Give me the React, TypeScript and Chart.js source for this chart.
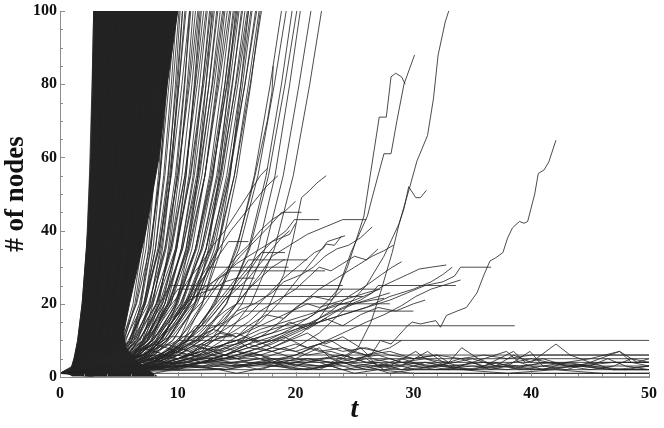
import React, { useEffect, useRef } from "react";
import { Chart, registerables } from "chart.js";

Chart.register(...registerables);

// ---------- axes ----------
const X_MIN = 0;
const X_MAX = 50;
const Y_MIN = 0;
const Y_MAX = 100;
const X_TICK_STEP = 2;
const X_LABEL_EVERY = 10;
const Y_TICK_STEP = 5;
const Y_LABEL_EVERY = 20;
const X_TITLE = "t";
const Y_TITLE = "# of nodes";

// ---------- dense core of explosive trajectories (outline, t / n) ----------
const CORE_T = [0.5, 0.9, 1.18, 1.5, 1.88, 2.35, 2.6, 2.75, 2.86, 10.0, 9.1, 8.4, 7.3, 5.9, 5.4, 5.6, 6.3, 7.2, 8.2, 1.0];
const CORE_N = [1, 2, 5, 10, 20, 40, 60, 80, 100, 100, 80, 60, 40, 20, 12, 8, 5, 2.5, 0.3, 0.3];

// ---------- explosive trajectories: time at which each passes these node counts ----------
const BURST_LEVELS = [1, 3, 6, 10, 20, 35, 55, 80, 100];
const BURST_TIMES = [
  [0, 1.05, 1.3, 1.5, 1.88, 2.25, 2.5, 2.72, 2.86],
  [0, 1.3, 1.7, 2.0, 2.4, 2.75, 3.0, 3.25, 3.4],
  [0, 1.3, 1.9, 2.3, 2.8, 3.2, 3.5, 3.8, 4.0],
  [0, 2.1, 2.7, 3.0, 3.45, 3.8, 4.1, 4.3, 4.5],
  [0, 1.6, 2.4, 2.9, 3.5, 4.0, 4.4, 4.75, 5.0],
  [0, 2.4, 3.2, 3.6, 4.15, 4.6, 4.95, 5.3, 5.5],
  [0, 1.9, 2.9, 3.5, 4.2, 4.8, 5.3, 5.7, 6.0],
  [0, 2.8, 3.6, 4.2, 4.85, 5.4, 5.85, 6.2, 6.5],
  [0, 2.2, 3.4, 4.05, 4.9, 5.6, 6.15, 6.65, 7.0],
  [0, 3.1, 4.1, 4.8, 5.55, 6.2, 6.7, 7.2, 7.5],
  [0, 2.9, 4.1, 4.85, 5.75, 6.5, 7.1, 7.6, 8.0],
  [0, 3.5, 4.7, 5.35, 6.2, 6.9, 7.45, 7.95, 8.3],
  [0, 1.2, 1.9, 2.65, 3.55, 4.3, 4.9, 5.4, 5.8],
  [0, 1.4, 2.8, 3.6, 4.65, 5.5, 6.2, 6.8, 7.2],
  [0, 3.5, 4.7, 5.45, 6.35, 7.1, 7.7, 8.2, 8.6],
  [0, 3.2, 4.6, 5.4, 6.45, 7.3, 8.0, 8.6, 9.0],
  [0, 3.9, 5.1, 5.9, 6.9, 7.7, 8.35, 8.9, 9.3],
  [0, 3.1, 4.7, 5.6, 6.75, 7.7, 8.45, 9.1, 9.6],
  [0, 3.8, 5.2, 6.1, 7.2, 8.1, 8.8, 9.45, 9.9],
  [0, 3.3, 4.9, 5.9, 7.1, 8.1, 8.9, 9.6, 10.1],
  [0, 3.3, 4.9, 6.0, 7.25, 8.3, 9.15, 9.9, 10.4],
  [0, 2.9, 4.7, 5.9, 7.25, 8.4, 9.3, 10.1, 10.7],
  [0, 3.6, 5.4, 6.5, 7.8, 8.9, 9.8, 10.55, 11.1],
  [0, 3.0, 5.0, 6.25, 7.75, 9.0, 10.0, 10.9, 11.5],
  [0, 3.6, 5.6, 6.8, 8.2, 9.4, 10.35, 11.2, 11.8],
  [0, 3.0, 5.2, 6.5, 8.15, 9.5, 10.6, 11.5, 12.2],
  [0, 3.7, 5.7, 7.0, 8.6, 9.9, 10.95, 11.85, 12.5],
  [0, 2.9, 5.3, 6.7, 8.45, 9.9, 11.05, 12.1, 12.8],
  [0, 3.6, 5.8, 7.2, 8.9, 10.3, 11.4, 12.4, 13.1],
  [0, 3.2, 5.6, 7.1, 8.9, 10.4, 11.6, 12.65, 13.4],
  [0, 3.7, 6.1, 7.5, 9.25, 10.7, 11.85, 12.9, 13.6],
  [0, 3.4, 5.8, 7.4, 9.25, 10.8, 12.05, 13.1, 13.9],
  [0, 3.3, 5.9, 7.5, 9.4, 11.0, 12.3, 13.4, 14.2],
  [0, 4.3, 6.7, 8.2, 10.0, 11.5, 12.7, 13.75, 14.5],
  [0, 3.6, 6.2, 7.9, 9.85, 11.5, 12.8, 14.0, 14.8],
  [0, 3.4, 6.2, 7.9, 9.9, 11.6, 12.95, 14.15, 15.0],
  [0, 4.3, 6.9, 8.5, 10.4, 12.0, 13.3, 14.4, 15.2],
  [0, 3.6, 6.4, 8.15, 10.25, 12.0, 13.4, 14.6, 15.5],
  [0, 4.5, 7.1, 8.8, 10.75, 12.4, 13.7, 14.9, 15.7],
  [0, 3.8, 6.6, 8.45, 10.6, 12.4, 13.85, 15.1, 16.0],
  [0, 4.6, 7.4, 9.1, 11.1, 12.8, 14.15, 15.35, 16.2],
  [0, 4.0, 7.0, 8.8, 11.05, 12.9, 14.4, 15.7, 16.6],
  [0, 5.0, 7.8, 9.55, 11.65, 13.4, 14.8, 16.0, 16.9],
  [0, 4.2, 7.2, 9.1, 11.4, 13.3, 14.8, 16.15, 17.1],
  [0, 5.9, 8.9, 10.8, 13.1, 15.0, 16.5, 17.85, 18.8],
  [0, 5.6, 8.8, 10.8, 13.2, 15.2, 16.8, 18.2, 19.2],
  [0, 7.1, 10.1, 11.9, 14.15, 16.0, 17.5, 18.8, 19.7],
  [0, 6.5, 9.7, 11.7, 14.1, 16.1, 17.7, 19.1, 20.1],
  [0, 8.2, 11.0, 12.8, 15.0, 16.8, 18.25, 19.5, 20.4],
  [0, 8.0, 11.2, 13.1, 15.45, 17.4, 18.95, 20.3, 21.3],
  [0, 8.6, 11.8, 13.8, 16.2, 18.2, 19.8, 21.2, 22.2],
  [0, 4.4, 5.4, 6.1, 6.85, 7.5, 8.0, 8.5, 8.8],
  [0, 4.3, 5.5, 6.25, 7.15, 7.9, 8.5, 9.0, 9.4],
  [0, 2.3, 4.1, 5.2, 6.5, 7.6, 8.5, 9.25, 9.8],
  [0, 4.4, 5.8, 6.6, 7.65, 8.5, 9.2, 9.8, 10.2],
  [0, 3.8, 5.4, 6.4, 7.6, 8.6, 9.4, 10.1, 10.6],
  [0, 2.2, 4.2, 5.5, 7.1, 8.4, 9.45, 10.35, 11.0],
  [0, 4.5, 6.1, 7.1, 8.3, 9.3, 10.1, 10.8, 11.3],
  [0, 2.2, 4.4, 5.8, 7.5, 8.9, 10.0, 11.0, 11.7],
  [0, 4.5, 6.3, 7.4, 8.7, 9.8, 10.7, 11.45, 12.0],
  [0, 2.2, 4.6, 6.1, 7.9, 9.4, 10.6, 11.65, 12.4],
  [0, 4.5, 6.5, 7.7, 9.1, 10.3, 11.3, 12.1, 12.7],
  [0, 2.1, 4.7, 6.3, 8.2, 9.8, 11.1, 12.2, 13.0],
  [0, 4.5, 6.5, 7.8, 9.4, 10.7, 11.7, 12.65, 13.3],
  [0, 2.2, 5.0, 6.7, 8.7, 10.4, 11.75, 12.95, 13.8],
  [0, 4.5, 6.7, 8.1, 9.8, 11.2, 12.3, 13.3, 14.0],
  [0, 2.5, 5.3, 7.05, 9.15, 10.9, 12.3, 13.5, 14.4],
  [0, 4.8, 7.2, 8.6, 10.35, 11.8, 13.0, 14.0, 14.7],
  [0, 2.9, 5.7, 7.5, 9.7, 11.5, 12.9, 14.2, 15.1],
  [0, 5.2, 7.6, 9.1, 10.9, 12.4, 13.6, 14.65, 15.4],
  [0, 3.0, 6.0, 7.9, 10.2, 12.1, 13.6, 14.95, 15.9],
  [0, 5.4, 8.0, 9.6, 11.5, 13.1, 14.4, 15.5, 16.3],
  [0, 3.1, 6.3, 8.3, 10.7, 12.7, 14.3, 15.7, 16.7],
  [0, 5.8, 8.4, 10.1, 12.05, 13.7, 15.0, 16.2, 17.0],
  [0, 6.1, 7.7, 8.7, 9.9, 10.9, 11.7, 12.4, 12.9],
  [0, 7.1, 8.9, 10.1, 11.45, 12.6, 13.5, 14.3, 14.9],
  [0, 7.2, 9.2, 10.5, 12.1, 13.4, 14.45, 15.35, 16.0],
  [0, 5.0, 6.2, 7.0, 7.9, 8.7, 9.4, 10.0, 10.4],
  [0, 5.4, 6.6, 7.4, 8.4, 9.2, 9.9, 10.6, 11.0],
  [0, 5.2, 6.8, 7.8, 8.9, 9.9, 10.7, 11.4, 11.9],
];

// ---------- slower, step-like trajectories [t, n] ----------
const SLOW_PATHS = [
  [[0, 1], [8, 2], [14, 3], [18, 4], [21, 5], [23, 4], [24.3, 6], [25.3, 8], [26.4, 15], [27.2, 23], [28.2, 34], [28.8, 42], [29.7, 52], [30.3, 59], [31.2, 66], [31.7, 76], [32.1, 88], [32.7, 97], [33.0, 100]],
  [[0, 1], [9, 3], [14, 6], [17, 9], [19.5, 13], [21.5, 17], [22.8, 21], [23.6, 24], [24.7, 34], [26.1, 44], [26.5, 49], [27.5, 61], [28.1, 61], [28.6, 70], [29.2, 80], [30.1, 88]],
  [[0, 1], [10, 3], [15, 5], [18, 8], [20.5, 12], [22, 16], [23.3, 22], [24.4, 30], [25.8, 44], [27.1, 71], [27.7, 71], [28.1, 82], [28.5, 83], [29.0, 82], [29.3, 80]],
  [[0, 1], [12, 3], [17, 5], [20, 8], [22, 12], [24, 18], [26, 25], [27.5, 33], [28.8, 42], [29.2, 46], [29.6, 52], [30.2, 49], [30.6, 49], [31.1, 51]],
  [[0, 1], [6, 2], [10, 3], [14, 2], [18, 4], [22, 3], [25, 5], [26.4, 6], [27.2, 10], [28.1, 9], [29.5, 14], [29.9, 15], [30.6, 14.5], [31.3, 15], [31.9, 15.4], [32.3, 13.6], [32.8, 16.8], [33.7, 18], [34.5, 19], [35.4, 23], [36, 28], [36.5, 31.7], [37, 32.6], [37.6, 34], [38, 38], [38.4, 40.7], [39, 42.5], [39.4, 42], [39.7, 42.5], [40.3, 50], [40.6, 55.6], [41.1, 56.6], [41.5, 58.8], [42.1, 64.7]],
  [[0, 1], [9, 3], [13, 6], [15.5, 10], [17.5, 18], [19, 28], [19.8, 38], [20.5, 49], [21.2, 51], [21.8, 53], [22.2, 54], [22.6, 55]],
  [[0, 1], [7, 3], [10, 7], [12, 14], [13.8, 25], [15.2, 38], [16.2, 50], [16.9, 60], [17.6, 70], [18.0, 78], [18.1, 85]],
  [[0, 1], [8, 2], [11, 4], [13, 7], [15, 11], [17, 15], [18.5, 20], [20, 26], [21.5, 32], [22.7, 37], [24.2, 38.6]],
  [[0, 1], [7, 2], [10, 4], [12, 6], [14, 8], [16, 10], [18, 12], [20, 14], [22, 15], [24, 17], [26, 19], [28, 21], [29.5, 23], [31, 25], [32.5, 26], [33.5, 27.6], [34, 30], [36.6, 30]],
  [[0, 1], [8, 3], [11, 5], [13, 8], [15, 10], [17, 13], [19, 15], [21, 17], [23, 19], [25, 21], [26.5, 23], [27.5, 25], [28.5, 26.5], [29.5, 28], [30.5, 29.5], [31.5, 30], [32.8, 30.6]],
  [[0, 1], [9, 3], [12, 5], [14, 7], [16, 9], [18, 11], [20, 13], [22, 16], [24, 19], [25.5, 21], [26.5, 23], [27, 25], [33.6, 25]],
  [[0, 1], [7, 2], [9, 5], [10.5, 9], [12, 14], [13.5, 20], [15, 26], [16.5, 32], [18, 37], [19.2, 40], [19.9, 43], [22.0, 43]],
  [[0, 1], [8, 3], [10, 6], [12, 9], [14, 13], [16, 17], [17.5, 22], [19, 27], [20.5, 31], [21.6, 34], [22.3, 35], [22.6, 36.3], [23.3, 36], [23.9, 38.5]],
  [[0, 1], [6, 2], [8, 4], [10, 8], [12, 13], [13.5, 19], [15, 25], [16.3, 30], [17.1, 34], [19.1, 34]],
  [[0, 1], [5, 2], [7, 5], [8.5, 10], [10, 16], [11.5, 24], [13, 31], [14.3, 37], [16.0, 37]],
  [[0, 1], [7, 3], [9, 6], [11, 11], [12.5, 17], [14, 23], [15.2, 28], [16, 32], [19.1, 32]],
  [[0, 1], [6, 2], [7.5, 5], [9, 10], [10.3, 16], [11.5, 23], [12.7, 30], [19.4, 30]],
  [[0, 1], [4.5, 3], [6, 7], [7.3, 13], [8.3, 19], [9.3, 25], [24.0, 25]],
  [[0, 1], [5, 3], [6.5, 7], [7.8, 13], [9, 19], [10, 24], [27.0, 24]],
  [[0, 1], [6, 3], [7.5, 7], [8.8, 12], [10, 17], [11, 22], [25.7, 22]],
  [[0, 1], [5, 2], [7, 4], [9, 7], [10.5, 10], [11.5, 14], [38.6, 14]],
  [[0, 1], [4, 2], [6, 4], [7.5, 6], [8.8, 8], [10, 10], [50, 10]],
  [[0, 1], [5, 3], [7, 6], [8.3, 9], [9.3, 11], [14.6, 11]],
  [[0, 1], [9, 2], [12, 4], [14, 6], [16, 9], [17.5, 12], [19, 16], [20.5, 20], [22, 24], [23.5, 27], [25, 30], [26.5, 33], [27.5, 34.5], [28.3, 36]],
  [[0, 1], [10, 3], [14, 5], [17, 8], [19, 11], [21, 14], [23, 18], [24.5, 22], [26, 25], [27.3, 28], [28.2, 30], [29, 31.5]],
  [[0, 1], [11, 3], [15, 6], [18, 9], [20, 12], [22, 15], [24, 17], [26, 19], [28, 22], [30, 24], [31.5, 26], [32.5, 28], [33.3, 30]],
  [[0, 1], [13, 2], [17, 4], [20, 6], [22, 9], [24, 12], [26, 15], [27.5, 17], [29, 19.5], [30.2, 22], [31.5, 24], [32.5, 25], [34, 26.5]],
  [[0, 1], [8, 2], [12, 4], [15, 7], [18, 10], [20, 13], [22, 15], [23.5, 18], [25, 20], [26.5, 21], [27.5, 21.5]],
  [[0, 1], [7, 3], [9, 7], [10.8, 13], [12.3, 20], [13.8, 27], [15.3, 33], [16.8, 38], [18, 42], [18.8, 45], [20.5, 45]],
  [[0, 1], [6, 2], [8, 4], [9.5, 7], [11, 6], [12, 9], [13.5, 12], [15, 11], [16, 14], [17.5, 17], [19, 16], [20, 19], [21.5, 22], [23, 21], [24, 24]],
  [[0, 1], [7, 3], [9, 5], [10, 8], [11.5, 10], [12.5, 13], [14, 15], [15, 18], [16.5, 20], [18, 23], [19, 26], [20.5, 28], [21.5, 30], [22.5, 33], [23.5, 35], [24.5, 36], [25.5, 38], [26.5, 41]],
  [[0, 1], [5, 2], [7, 5], [8, 8], [9, 12], [10, 15], [11, 19], [12, 22], [13, 26], [14, 29], [15, 33], [16, 36], [17, 40], [18, 43], [19, 45], [20, 48]],
  [[0, 1], [6, 3], [8, 6], [9.5, 11], [11, 17], [12.5, 22], [13.5, 27], [14.5, 29], [22.5, 29]],
  [[0, 1], [7, 2], [9, 5], [11, 9], [12.5, 14], [14, 18], [15, 20], [28, 20]],
  [[0, 1], [5, 2], [7, 4], [9, 6], [11, 9], [13, 12], [14.5, 16], [15.5, 18], [30, 18]],
  [[0, 1], [8, 3], [10, 6], [12, 10], [14, 16], [15.5, 22], [17, 28], [18, 33], [19.5, 36], [21, 39], [22.5, 41], [24, 43], [26, 43]],
  [[0, 1], [4, 2], [6, 5], [7, 9], [8, 13], [9, 18], [10, 22], [11, 27], [12, 31], [13, 36], [14, 40], [15, 45], [16, 50], [17, 55], [17.6, 57]],
  [[0, 1], [6, 2], [8, 3], [10, 5], [12, 7], [13, 10], [14.5, 12], [16, 15], [17, 18], [18.5, 21], [20, 24], [21, 27], [22, 30], [23, 29], [24, 31], [25, 33], [26, 32], [27, 35]],
  [[0, 1], [5, 3], [6.5, 6], [8, 9], [9, 13], [10, 17], [11, 20], [12, 24], [13.5, 27], [15, 31], [16.5, 34], [18, 37], [19.5, 39], [20, 42]],
  [[0, 1], [6, 2], [7.5, 4], [9, 7], [10.5, 11], [12, 14], [13, 17], [14, 21], [15, 24], [16, 27], [17, 31], [18, 35], [18.8, 38], [19.5, 40]],
  [[0, 1], [4, 2], [6, 4], [7, 7], [8, 11], [9, 14], [10, 18], [11, 21], [12, 23], [13, 24], [14, 26], [15, 27], [16.5, 27]],
  [[0, 1], [7, 3], [9, 4], [11, 6], [13, 8], [15, 9], [17, 12], [19, 14], [21, 16], [22, 18], [23.5, 20], [25, 20], [27, 22], [28, 23]],
  [[0, 1], [5, 2], [7, 3], [8.5, 5], [10, 7], [11.5, 10], [13, 13], [14, 17], [15, 20], [16, 24], [17, 27], [18, 30], [19, 32], [21, 32]],
  [[0, 1], [6, 3], [7.5, 6], [8.5, 10], [9.5, 15], [10.5, 20], [11.5, 25], [12.5, 30], [13.5, 35], [14.5, 40], [15.5, 44], [16.5, 48], [17.5, 52], [18.5, 55]],
];

// ---------- trajectories that stay small [t, n] ----------
const LOW_PATHS = [
  [[0, 1], [3, 2], [4.5, 4], [5.5, 6], [50, 6]],
  [[0, 1], [4, 3], [7, 5], [50, 5]],
  [[0, 1], [5, 2], [10, 4], [50, 4]],
  [[0, 1], [6, 2], [9, 3], [50, 3]],
  [[0, 1], [4, 2], [50, 2]],
  [[0, 1], [2, 1], [50, 1]],
  [[0, 1], [3, 0], [50, 0]],
  [[0, 1], [3, 2], [6, 3], [9, 2], [12, 4], [15, 3], [18, 5], [21, 4], [24, 6], [26, 4], [28, 3], [30.2, 7], [31, 5], [33, 4], [34.1, 8], [35.5, 5], [37, 3], [38.5, 6], [40, 4], [42.1, 9], [43.3, 6], [45, 4], [47.5, 7], [48.5, 4], [50, 3]],
  [[0, 1], [4, 2], [8, 1], [11, 3], [14, 2], [17, 4], [20, 2], [23, 3], [26, 5], [27.5, 2], [29, 3], [31.2, 7], [32.5, 4], [34, 3], [36, 5], [37.9, 7], [39, 4], [41, 2], [43, 4], [45, 3], [46.5, 5], [48, 3], [50, 2]],
  [[0, 1], [5, 3], [10, 2], [13, 5], [16, 3], [19, 4], [22, 2], [24, 5], [25.5, 8], [26.5, 5], [28, 4], [30, 2], [32, 3], [34, 5], [36, 3], [38.5, 7], [39.5, 4], [41, 5], [43, 3], [45, 2], [47, 3], [48.5, 5], [50, 4]],
  [[0, 1], [6, 2], [9, 4], [12, 3], [15, 1], [18, 3], [21, 2], [24, 4], [27, 3], [29, 5], [31, 3], [33, 2], [35, 4], [36.5, 2], [38, 3], [39.9, 7], [41, 3], [43, 4], [45, 5], [47.5, 7], [49, 4], [50, 5]],
  [[0, 1], [2, 2], [5, 4], [8, 3], [11, 5], [14, 4], [17, 2], [20, 5], [22, 8], [23, 5], [25, 3], [27, 4], [29, 2], [31, 4], [33, 3], [35, 2], [37, 4], [39, 2], [41, 3], [43, 2], [45, 4], [47, 2], [50, 3]],
  [[0, 1], [7, 3], [10, 5], [12, 8], [14, 6], [16, 9], [18, 7], [20, 5], [22, 4], [24, 2], [26, 3], [28, 1], [30, 2], [34, 2], [38, 1], [42, 2], [46, 1], [50, 1]],
  [[0, 1], [3, 3], [5, 5], [7, 8], [9, 6], [11, 9], [13, 7], [15, 5], [17, 6], [19, 3], [21, 2], [23, 3], [25, 1], [27, 2], [30, 1], [50, 1]],
  [[0, 1], [4, 4], [6, 6], [8, 9], [10, 7], [12, 5], [14, 8], [16, 6], [18, 4], [20, 6], [21.5, 8], [23, 6], [25, 4], [26, 6], [27, 3], [29, 4], [32, 3], [35, 5], [37, 3], [40, 2], [44, 3], [47, 2], [50, 2]],
  [[0, 1], [5, 3], [7, 6], [9, 9], [11, 7], [13, 10], [15, 12], [17, 9], [19, 11], [21, 8], [23, 10], [24.5, 7], [26, 6], [28, 8], [29, 10]],
  [[0, 1], [6, 2], [8, 5], [10, 8], [12, 6], [14, 9], [16, 11], [18, 8], [19.5, 10], [21, 12], [22.5, 9], [24, 11], [25.5, 8], [27, 7]],
  [[0, 1], [4, 3], [6, 5], [8, 7], [10, 5], [12, 8], [14, 7], [16, 10], [18, 12], [19.5, 15], [21, 13], [22.5, 16], [24, 14], [25.5, 17], [27, 19], [28.5, 18], [30, 20], [31, 21]],
  [[0, 1], [7, 4], [9, 7], [11, 10], [13, 13], [15, 11], [17, 14], [19, 17], [21, 20], [22, 19], [24, 21], [26, 23], [27.2, 24]],
  [[0, 1], [3, 2], [5, 3], [7, 5], [9, 4], [11, 6], [13, 5], [15, 7], [17, 6], [19, 8], [21, 6], [23, 7], [25, 5], [27, 6], [29, 4], [31, 5], [33, 3], [36, 4], [39, 3], [42, 4], [45, 3], [48, 2], [50, 3]],
  [[0, 1], [4, 3], [6, 4], [8, 6], [10, 5], [12, 7], [14, 5], [16, 6], [18, 8], [20, 7], [22, 9], [24, 7], [26, 8], [28, 6], [30, 5], [32, 6], [33, 4]],
  [[0, 1], [2, 3], [4, 2], [6, 4], [8, 5], [10, 3], [12, 4], [14, 6], [16, 4], [18, 3], [20, 4], [22, 3], [24, 4], [26, 2], [28, 3], [31, 4], [34, 2], [37, 3], [40, 5], [43, 3], [46, 4], [50, 4]],
  [[0, 1], [5, 2], [7, 3], [9, 5], [10, 7], [12, 9], [13, 8], [15, 10], [16, 8], [18, 7], [20, 9], [22, 7], [24, 8], [26, 6], [28, 7], [30, 5], [32, 6], [34, 5], [36, 6], [38, 5], [40, 6], [50, 6]],
  [[0, 1], [3, 3], [5, 2], [7, 4], [9, 3], [11, 5], [13, 3], [15, 4], [17, 5], [19, 3], [21, 5], [23, 4], [25, 2], [27, 3], [29, 2], [32, 3], [35, 2], [38, 3], [41, 2], [44, 3], [47, 2], [50, 2]],
  [[0, 1], [6, 3], [8, 5], [10, 6], [12, 4], [14, 5], [16, 7], [18, 5], [20, 3], [22, 5], [24, 6], [26, 4], [28, 5], [30, 3], [32, 2], [35, 3], [38, 2], [41, 4], [44, 3], [47, 4], [50, 4]],
];

// ---------- styles ----------
const LINE_COLOR = "rgba(36,36,36,0.82)";
const CORE_COLOR = "rgb(34,34,34)";
const AXIS_COLOR = "#8c8c8c";
const TEXT_COLOR = "#111111";
const SERIF = "'Liberation Serif', 'Times New Roman', Times, serif";

const inwardTicks = {
  id: "inwardTicks",
  afterDatasetsDraw(chart: any) {
    const { ctx, chartArea, scales } = chart;
    const xs = scales.x;
    const ys = scales.y;
    ctx.save();
    ctx.strokeStyle = AXIS_COLOR;
    ctx.lineWidth = 1;
    ctx.beginPath();
    xs.ticks.forEach((t: any) => {
      const px = Math.round(xs.getPixelForValue(t.value)) + 0.5;
      const len = t.value % X_LABEL_EVERY === 0 ? 5 : 3;
      ctx.moveTo(px, chartArea.bottom);
      ctx.lineTo(px, chartArea.bottom - len);
    });
    ys.ticks.forEach((t: any) => {
      const py = Math.round(ys.getPixelForValue(t.value)) + 0.5;
      const len = t.value % Y_LABEL_EVERY === 0 ? 5 : 3;
      ctx.moveTo(chartArea.left, py);
      ctx.lineTo(chartArea.left + len, py);
    });
    ctx.stroke();
    ctx.restore();
  },
};

export default function App() {
  const canvasRef = useRef<HTMLCanvasElement | null>(null);

  useEffect(() => {
    const canvas = canvasRef.current;
    if (!canvas) return;

    const lineStyle = {
      borderColor: LINE_COLOR,
      borderWidth: 1,
      pointRadius: 0,
      fill: false,
      tension: 0,
    };

    const burstSets = BURST_TIMES.map((row) => ({
      ...lineStyle,
      data: row.map((t, i) => ({ x: t, y: BURST_LEVELS[i] })),
    }));
    const slowSets = SLOW_PATHS.map((p) => ({
      ...lineStyle,
      data: p.map(([t, n]) => ({ x: t, y: n })),
    }));
    const lowSets = LOW_PATHS.map((p) => ({
      ...lineStyle,
      data: p.map(([t, n]) => ({ x: t, y: n })),
    }));
    const coreSet = {
      data: CORE_T.map((t, i) => ({ x: t, y: CORE_N[i] })),
      borderColor: CORE_COLOR,
      backgroundColor: CORE_COLOR,
      borderWidth: 1,
      pointRadius: 0,
      tension: 0,
      fill: "shape",
    };

    const chart = new Chart(canvas, {
      type: "line",
      data: { datasets: [...burstSets, ...slowSets, ...lowSets, coreSet] as any },
      options: {
        animation: false,
        responsive: false,
        devicePixelRatio: 1,
        events: [],
        layout: { padding: { top: 9, right: 9, left: 0, bottom: 0 } },
        plugins: { legend: { display: false }, tooltip: { enabled: false } },
        scales: {
          x: {
            type: "linear",
            min: X_MIN,
            max: X_MAX,
            grid: { display: false, drawTicks: false },
            border: { display: true, color: AXIS_COLOR, width: 1 },
            ticks: {
              stepSize: X_TICK_STEP,
              autoSkip: false,
              maxRotation: 0,
              padding: 7,
              color: TEXT_COLOR,
              font: { family: SERIF, size: 16, weight: "bold" },
              callback: (v: any) => (Number(v) % X_LABEL_EVERY === 0 ? String(v) : ""),
            },
            title: {
              display: true,
              text: X_TITLE,
              color: TEXT_COLOR,
              padding: { top: 0, bottom: 1 },
              font: { family: SERIF, size: 28, weight: "bold", style: "italic", lineHeight: 1.2 },
            },
            afterFit: (s: any) => {
              s.height = 51;
            },
          },
          y: {
            type: "linear",
            min: Y_MIN,
            max: Y_MAX,
            grid: { display: false, drawTicks: false },
            border: { display: true, color: AXIS_COLOR, width: 1 },
            ticks: {
              stepSize: Y_TICK_STEP,
              autoSkip: false,
              padding: 3,
              color: TEXT_COLOR,
              font: { family: SERIF, size: 16, weight: "bold", lineHeight: 1 },
              callback: (v: any) => (Number(v) % Y_LABEL_EVERY === 0 ? String(v) : ""),
            },
            title: {
              display: true,
              text: Y_TITLE,
              color: TEXT_COLOR,
              padding: { top: 0, bottom: 0 },
              font: { family: SERIF, size: 27, weight: "bold", lineHeight: 1.2 },
            },
            afterFit: (s: any) => {
              s.width = 60;
            },
          },
        },
      } as any,
      plugins: [inwardTicks],
    });

    return () => chart.destroy();
  }, []);

  return (
    <div style={{ position: "absolute", left: 0, top: 0, width: 664, height: 428, background: "#fff" }}>
      <canvas ref={canvasRef} width={664} height={428} style={{ display: "block", width: 664, height: 428 }} />
    </div>
  );
}
